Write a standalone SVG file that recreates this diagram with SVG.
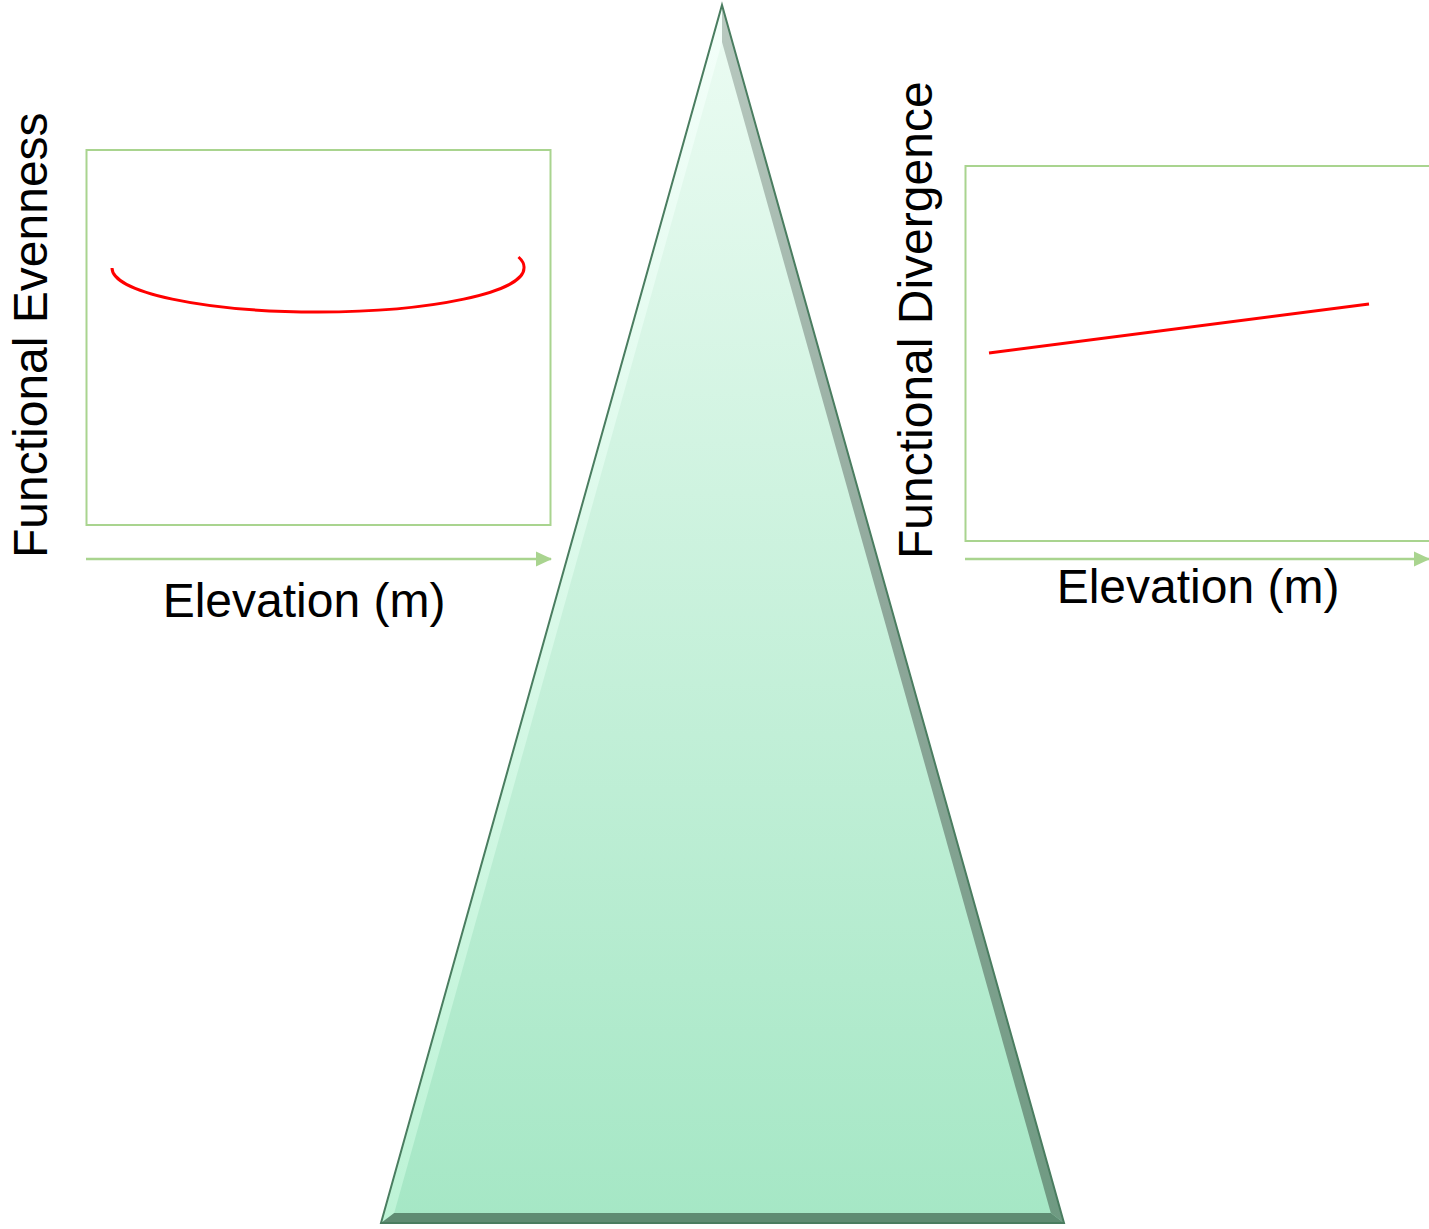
<svg xmlns="http://www.w3.org/2000/svg" width="1429" height="1229" viewBox="0 0 1429 1229">
  <style>
    .box { fill: none; stroke: #a9d48f; stroke-width: 2; }
    .axis { stroke: #a9d48f; stroke-width: 2.5; fill: none; }
    .curve { fill: none; stroke: #ff0000; stroke-width: 3; }
    .lbl { font-family: "Liberation Sans", Arial, sans-serif; font-size: 48px; fill: #000; }
  </style>
  <defs>
    <marker id="arr" markerUnits="userSpaceOnUse" markerWidth="16" markerHeight="16" refX="15" refY="7.5" orient="auto" viewBox="0 0 16 15">
      <path d="M0,0 L16,7.5 L0,15 Z" fill="#a9d48f"/>
    </marker>
    <linearGradient id="face" x1="0" y1="0" x2="0" y2="1">
      <stop offset="0" stop-color="#ecfcf3"/>
      <stop offset="0.4" stop-color="#cff3e0"/>
      <stop offset="1" stop-color="#a5e7c5"/>
    </linearGradient>
    <linearGradient id="leftBevel" x1="0" y1="0" x2="0" y2="1">
      <stop offset="0" stop-color="#f4fffa"/>
      <stop offset="1" stop-color="#bdf3d6"/>
    </linearGradient>
    <linearGradient id="rightBevel" x1="0" y1="0" x2="0" y2="1">
      <stop offset="0" stop-color="#b9c9c0"/>
      <stop offset="0.5" stop-color="#8ea79a"/>
      <stop offset="1" stop-color="#6f9a82"/>
    </linearGradient>
  </defs>

  <g id="mountain">
    <polygon points="722,5 1064,1223 381,1223" fill="url(#face)"/>
    <polygon points="722,5 722,42 394.2,1213 381,1223" fill="url(#leftBevel)"/>
    <polygon points="722,5 1064,1223 1050.8,1213 722,42" fill="url(#rightBevel)"/>
    <polygon points="381,1223 1064,1223 1050.8,1213 394.2,1213" fill="#5f8c73"/>
    <polygon points="722,5 1064,1223 381,1223" fill="none" stroke="#4a7d60" stroke-width="2" stroke-linejoin="miter"/>
  </g>

  <g id="plot-evenness">
    <rect class="box" x="86.5" y="150" width="464" height="375"/>
    <path class="curve" d="M112,268 A206,44 0 0 0 524,268 A206,44 0 0 0 518.5,257"/>
    <text class="lbl" transform="translate(47,558) rotate(-90)">Functional Evenness</text>
    <text class="lbl" x="304" y="617" text-anchor="middle">Elevation (m)</text>
  </g>

  <g id="plot-divergence">
    <rect class="box" x="965.5" y="166" width="470" height="375"/>
    <line class="curve" x1="989" y1="353" x2="1369" y2="304"/>
    <text class="lbl" transform="translate(932,559) rotate(-90)">Functional Divergence</text>
    <text class="lbl" x="1198" y="603" text-anchor="middle">Elevation (m)</text>
  </g>

  <g id="connectors">
    <line class="axis" x1="86" y1="559" x2="551" y2="559" marker-end="url(#arr)"/>
    <line class="axis" x1="965" y1="559" x2="1429" y2="559" marker-end="url(#arr)"/>
  </g>
</svg>
